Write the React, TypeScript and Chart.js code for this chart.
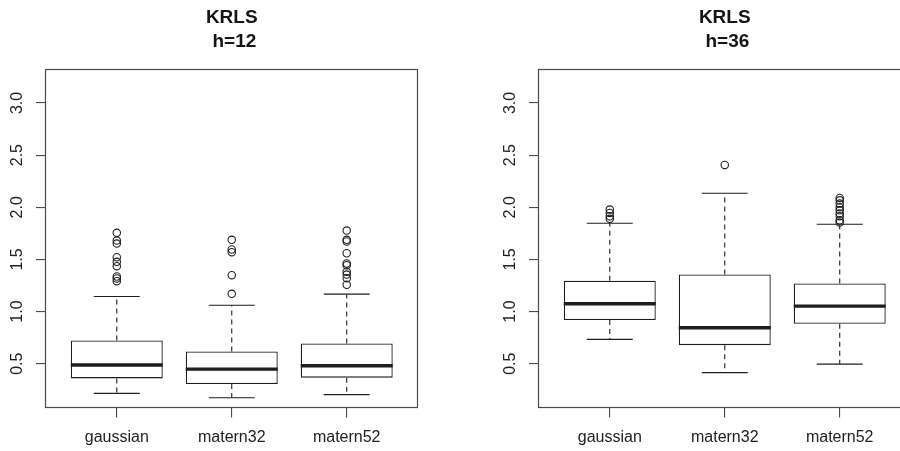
import React, { useEffect, useRef } from 'react';
import { Chart, registerables } from 'chart.js';

Chart.register(...registerables);

const categories = ['gaussian', 'matern32', 'matern52'];
const yTickValues = [0.5, 1.0, 1.5, 2.0, 2.5, 3.0];
const yTickLabels = ['0.5', '1.0', '1.5', '2.0', '2.5', '3.0'];

// Panel 1: KRLS, h=12
const title12 = ['KRLS', ' h=12'];
const lower12 = [0.215, 0.174, 0.203];
const q1_12 = [0.359, 0.305, 0.366];
const median12 = [0.487, 0.448, 0.481];
const q3_12 = [0.723, 0.618, 0.694];
const upper12 = [1.145, 1.061, 1.167];
const outliers12 = [
  [1.755, 1.681, 1.652, 1.521, 1.477, 1.435, 1.336, 1.317, 1.291],
  [1.688, 1.595, 1.569, 1.349, 1.17],
  [1.777, 1.688, 1.672, 1.559, 1.461, 1.444, 1.381, 1.355, 1.32, 1.257],
];

// Panel 2: KRLS, h=36
const title36 = ['KRLS', ' h=36'];
const lower36 = [0.733, 0.414, 0.496];
const q1_36 = [0.918, 0.678, 0.883];
const median36 = [1.075, 0.845, 1.052];
const q3_36 = [1.295, 1.355, 1.269];
const upper36 = [1.847, 2.134, 1.837];
const outliers36 = [
  [1.978, 1.946, 1.914, 1.889],
  [2.406],
  [2.09, 2.067, 2.035, 2.0, 1.971, 1.94, 1.914, 1.875, 1.853],
];

const FONT = "'Liberation Sans', Arial, Helvetica, sans-serif";
const INK = '#1e1e1e';
const AXIS = '#4a4a4a';

const framePlugin = {
  id: 'frame',
  beforeDatasetsDraw(chart: any) {
    const { ctx, chartArea } = chart;
    const l = Math.round(chartArea.left);
    const t = Math.round(chartArea.top);
    const r = Math.round(chartArea.right);
    const b = Math.round(chartArea.bottom);
    ctx.save();
    ctx.strokeStyle = AXIS;
    ctx.lineWidth = 1.2;
    ctx.strokeRect(l - 0.5, t - 0.5, r - l, b - t);
    ctx.restore();
  },
};

function buildDatasets(lower: number[], q1: number[], median: number[], q3: number[], upper: number[], outliers: number[][]) {
  const medianPts: any[] = [];
  const whiskerPts: any[] = [];
  const capPts: any[] = [];
  categories.forEach((_, i) => {
    const c = i + 1;
    medianPts.push({ x: c - 0.4, y: median[i] }, { x: c + 0.4, y: median[i] }, { x: c + 0.4, y: null });
    whiskerPts.push(
      { x: c, y: q3[i] }, { x: c, y: upper[i] }, { x: c, y: null },
      { x: c, y: q1[i] }, { x: c, y: lower[i] }, { x: c, y: null }
    );
    capPts.push(
      { x: c - 0.2, y: upper[i] }, { x: c + 0.2, y: upper[i] }, { x: c + 0.2, y: null },
      { x: c - 0.2, y: lower[i] }, { x: c + 0.2, y: lower[i] }, { x: c + 0.2, y: null }
    );
  });
  const outlierPts = outliers.flatMap((arr, i) => arr.map((v) => ({ x: i + 1, y: v })));
  return [
    {
      type: 'line', data: medianPts, borderColor: INK, borderWidth: 3.4, pointRadius: 0,
      spanGaps: false, borderCapStyle: 'butt', order: 0,
    },
    {
      type: 'line', data: whiskerPts, borderColor: INK, borderWidth: 1.1, borderDash: [5, 4],
      pointRadius: 0, spanGaps: false, order: 1,
    },
    {
      type: 'line', data: capPts, borderColor: INK, borderWidth: 1.1, pointRadius: 0,
      spanGaps: false, order: 1,
    },
    {
      type: 'scatter', data: outlierPts, showLine: false, pointStyle: 'circle', pointRadius: 3.7,
      pointBorderWidth: 1.1, pointBorderColor: INK, pointBackgroundColor: 'rgba(0,0,0,0)', order: 1,
    },
    {
      type: 'bar',
      data: categories.map((_, i) => ({ x: i + 1, y: [q1[i], q3[i]] })),
      backgroundColor: '#ffffff', borderColor: INK, borderWidth: 1.3, borderSkipped: false,
      categoryPercentage: 1, barPercentage: 0.8, order: 10,
    },
  ];
}

function Panel({ title, datasets }: { title: string[]; datasets: any[] }) {
  const ref = useRef<HTMLCanvasElement | null>(null);
  useEffect(() => {
    if (!ref.current) return;
    const chart = new Chart(ref.current, {
      type: 'bar',
      data: { datasets } as any,
      options: {
        responsive: false,
        animation: false,
        events: [],
        layout: { padding: { left: 0, right: 73, top: 0, bottom: 0 } },
        plugins: {
          legend: { display: false },
          tooltip: { enabled: false },
          title: {
            display: true,
            fullSize: false,
            text: title,
            color: '#151515',
            font: { family: FONT, size: 19, weight: 'bold', lineHeight: 1.24 },
            padding: { top: 6, bottom: 16.5 },
          },
        },
        scales: {
          x: {
            type: 'linear',
            min: 0.38,
            max: 3.62,
            offset: false,
            afterBuildTicks: (s: any) => { s.ticks = categories.map((_, i) => ({ value: i + 1 })); },
            afterFit: (s: any) => { s.height = 43.5; },
            ticks: {
              autoSkip: false, minRotation: 0, maxRotation: 0, padding: 10.5, color: '#222',
              font: { family: FONT, size: 16 },
              callback: (_v: any, i: number) => categories[i],
            },
            grid: { display: true, drawOnChartArea: false, drawTicks: true, tickLength: 10, color: AXIS, offset: false, lineWidth: 1.1 },
            border: { display: false },
          },
          y: {
            type: 'linear',
            min: 0.08,
            max: 3.32,
            afterBuildTicks: (s: any) => { s.ticks = yTickValues.map((v) => ({ value: v })); },
            afterFit: (s: any) => { s.width = 45.5; },
            ticks: {
              autoSkip: false, minRotation: 90, maxRotation: 90, crossAlign: 'center', padding: 7.5,
              color: '#222', font: { family: FONT, size: 16 },
              callback: (_v: any, i: number) => yTickLabels[i],
            },
            grid: { display: true, drawOnChartArea: false, drawTicks: true, tickLength: 9.5, color: AXIS, lineWidth: 1.1 },
            border: { display: false },
          },
        },
      } as any,
      plugins: [framePlugin],
    });
    return () => chart.destroy();
  }, []);
  return (
    <canvas
      ref={ref}
      width={491}
      height={451}
      style={{ position: 'absolute', left: 0, top: 0, width: 491, height: 451 }}
    />
  );
}

export default function App() {
  return (
    <div style={{ position: 'absolute', left: 0, top: 0, width: 900, height: 451, overflow: 'hidden', background: '#fff' }}>
      <div style={{ position: 'absolute', left: 0, top: 0, width: 491, height: 451, overflow: 'hidden' }}>
        <Panel title={title12} datasets={buildDatasets(lower12, q1_12, median12, q3_12, upper12, outliers12)} />
      </div>
      <div style={{ position: 'absolute', left: 493, top: 0, width: 407, height: 451, overflow: 'hidden' }}>
        <Panel title={title36} datasets={buildDatasets(lower36, q1_36, median36, q3_36, upper36, outliers36)} />
      </div>
    </div>
  );
}
